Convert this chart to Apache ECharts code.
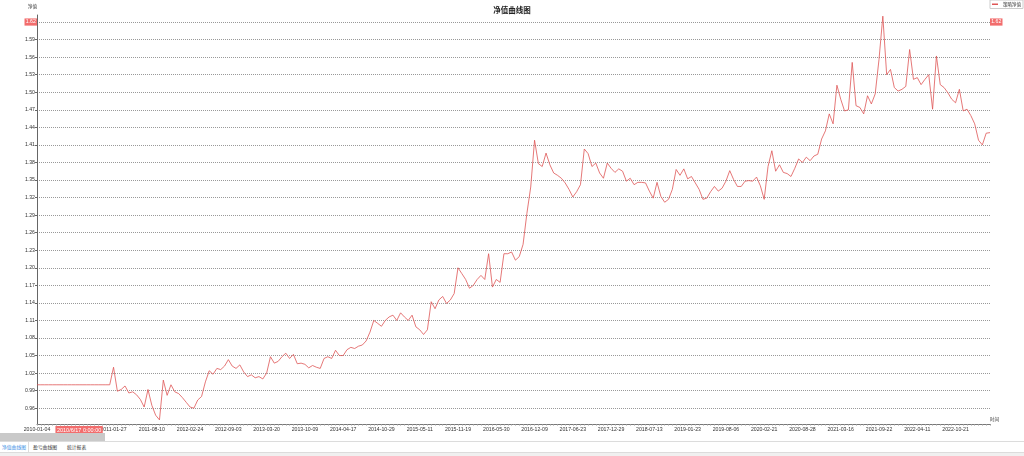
<!DOCTYPE html>
<html><head><meta charset="utf-8">
<script src="https://cdn.jsdelivr.net/npm/echarts@6/dist/echarts.min.js"></script>
<style>
html,body{margin:0;padding:0;width:1024px;height:456px;overflow:hidden;background:#fff;font-family:'Liberation Sans','Noto Sans CJK SC',sans-serif;}
#chart{position:absolute;left:0;top:0;width:1024px;height:441px;}
#scroll{position:absolute;left:0;top:433px;width:105px;height:8px;background:#c9c9c9;}
#tabs{position:absolute;left:0;top:441px;width:1024px;height:10px;border-top:1px solid #dcdcdc;border-bottom:1px solid #dcdcdc;background:#fff;}
#tabs span{position:absolute;top:0;height:10px;line-height:10px;font-size:4.8px;color:#333;white-space:nowrap;font-family:'Noto Sans CJK SC',sans-serif;}
#under{position:absolute;left:0;top:453px;width:1024px;height:3px;background:#f0f0f0;}
</style></head>
<body>
<div id="chart"></div>
<div id="scroll"></div>
<div id="tabs"><span style="left:0;width:28px;text-align:center;color:#3b8fe5;border-right:1px solid #dcdcdc;">净值曲线图</span><span style="left:33px;">盈亏曲线图</span><span style="left:67px;">统计报表</span></div>
<div id="under"></div>
<script>
// label dates shown on x axis (every 10th category), plus last category date
const labelDates = ['2010-01-04','2010-05-23','2011-01-27','2011-08-10','2012-02-24','2012-09-03','2013-03-20','2013-10-09','2014-04-17','2014-10-29','2015-05-11','2015-11-19','2016-05-30','2016-12-09','2017-06-23','2017-12-29','2018-07-13','2019-01-23','2019-08-06','2020-02-21','2020-08-28','2021-03-16','2021-09-22','2022-04-11','2022-10-21'];
const lastDate = '2023-04-03';
const pointerIndex = 11;
const pointerValue = 1.62;
const seriesName = '策略净值';
const netValues = [
1.000,1.000,1.000,1.000,1.000,1.000,1.000,1.000,1.000,1.000,
1.000,1.000,1.000,1.000,1.000,1.000,1.000,1.000,1.000,1.000,
1.030,0.989,0.992,0.998,0.986,0.988,0.983,0.975,0.962,0.992,
0.965,0.948,0.940,1.008,0.982,1.000,0.988,0.985,0.978,0.970,
0.962,0.960,0.974,0.980,1.005,1.024,1.018,1.028,1.026,1.032,
1.043,1.032,1.028,1.034,1.022,1.014,1.017,1.012,1.014,1.010,
1.020,1.048,1.037,1.040,1.048,1.054,1.045,1.052,1.036,1.037,
1.035,1.029,1.033,1.030,1.028,1.045,1.048,1.045,1.059,1.050,
1.050,1.060,1.064,1.062,1.066,1.068,1.075,1.090,1.110,1.105,
1.100,1.110,1.116,1.119,1.110,1.123,1.116,1.110,1.119,1.099,
1.094,1.086,1.094,1.142,1.130,1.145,1.151,1.139,1.145,1.156,
1.200,1.190,1.180,1.165,1.170,1.180,1.187,1.180,1.224,1.167,
1.180,1.175,1.224,1.224,1.227,1.213,1.219,1.240,1.293,1.338,
1.418,1.378,1.373,1.396,1.376,1.362,1.358,1.353,1.345,1.334,
1.321,1.330,1.342,1.403,1.395,1.373,1.379,1.362,1.353,1.379,
1.370,1.363,1.369,1.365,1.348,1.353,1.342,1.346,1.346,1.345,
1.331,1.319,1.346,1.322,1.312,1.317,1.334,1.368,1.358,1.369,
1.352,1.356,1.345,1.334,1.317,1.319,1.330,1.339,1.331,1.336,
1.348,1.366,1.351,1.339,1.339,1.348,1.349,1.348,1.355,1.340,
1.317,1.373,1.400,1.365,1.376,1.363,1.361,1.356,1.370,1.386,
1.380,1.389,1.383,1.391,1.394,1.420,1.434,1.463,1.446,1.512,
1.488,1.468,1.470,1.551,1.477,1.474,1.463,1.494,1.480,1.497,
1.556,1.630,1.530,1.539,1.508,1.502,1.505,1.510,1.573,1.522,
1.525,1.513,1.522,1.530,1.471,1.562,1.513,1.508,1.499,1.488,
1.482,1.505,1.468,1.471,1.460,1.446,1.418,1.410,1.430,1.431
];

// build category dates: 10 categories per labelled segment
function toDay(s){const p=s.split('-');return Date.UTC(+p[0],+p[1]-1,+p[2])/86400000;}
function fmt(d){const t=new Date(d*86400000);const m=t.getUTCMonth()+1,dd=t.getUTCDate();return t.getUTCFullYear()+'-'+(m<10?'0':'')+m+'-'+(dd<10?'0':'')+dd;}
const anchors = labelDates.concat([lastDate]);
const categories = [];
for(let s=0;s<anchors.length-1;s++){
  const a=toDay(anchors[s]), b=toDay(anchors[s+1]);
  const steps = (s===anchors.length-2) ? (netValues.length-1-10*s) : 10;
  for(let k=0;k<steps;k++){categories.push(k===0?anchors[s]:fmt(Math.round(a+(b-a)*k/steps)));}
}
categories.push(lastDate);

const FONT = "'Liberation Sans','Noto Sans CJK SC',sans-serif";
const RED = '#f26d6d';
const chart = echarts.init(document.getElementById('chart'), null, {renderer:'canvas'});
const yCommon = {type:'value', min:0.933, max:1.632, splitNumber:23};
chart.setOption({
  animation:false,
  textStyle:{fontFamily:FONT},
  title:{text:'净值曲线图', left:'center', top:1, textStyle:{fontSize:7.5, fontWeight:'bold', color:'#222', fontFamily:"'Noto Sans CJK SC',sans-serif"}},
  legend:{right:1, top:0, data:[{name:seriesName, icon:'rect'}], itemWidth:6, itemHeight:1.5, padding:[2,2], borderColor:'#ccc', borderWidth:1,
    textStyle:{fontSize:4.5, color:'#333', fontFamily:"'Noto Sans CJK SC',sans-serif"}},
  grid:{left:37, right:34, top:15, bottom:17, containLabel:false},
  xAxis:{type:'category', data:categories, boundaryGap:false,
    name:'时间', nameLocation:'end', nameGap:0,
    nameTextStyle:{fontSize:4.5, color:'#333', verticalAlign:'bottom', align:'left', padding:[0,0,2,0], fontFamily:"'Noto Sans CJK SC',sans-serif"},
    axisLine:{lineStyle:{color:'#777', width:1}},
    axisTick:{show:true, interval:0, length:1.5, lineStyle:{color:'#999'}},
    axisLabel:{interval:9, fontSize:5.2, color:'#333', margin:3},
    splitLine:{show:false},
    axisPointer:{show:true, value:categories[pointerIndex], status:'show', triggerTooltip:false,
      lineStyle:{opacity:0},
      label:{show:true, backgroundColor:RED, color:'#fff', fontSize:5.5, padding:[1.5,1.5], margin:2, borderRadius:0,
        formatter:function(p){const q=String(p.value).split('-');return q[0]+'/'+(+q[1])+'/'+(+q[2])+' 0:00:00';}}}
  },
  yAxis:[
    Object.assign({}, yCommon, {position:'left',
      name:'净值', nameLocation:'end', nameGap:6,
      nameTextStyle:{fontSize:4.5, color:'#333', align:'right', fontFamily:"'Noto Sans CJK SC',sans-serif"},
      axisLine:{show:true, lineStyle:{color:'#666'}},
      axisTick:{show:true, length:2, lineStyle:{color:'#666'}},
      axisLabel:{fontSize:5.2, color:'#333', margin:2, showMinLabel:false, showMaxLabel:false, formatter:function(v){return v.toFixed(2);}},
      splitLine:{show:true, showMinLine:false, showMaxLine:false, lineStyle:{type:'dotted', color:'#999', width:1}},
      axisPointer:{show:true, value:pointerValue, status:'show', triggerTooltip:false, lineStyle:{opacity:0},
        label:{show:true, backgroundColor:RED, color:'#fff', fontSize:5.2, padding:[1,1.2], margin:0, borderRadius:0,
          formatter:function(p){return (+p.value).toFixed(2);}}}
    }),
    Object.assign({}, yCommon, {position:'right',
      axisLine:{show:false}, axisTick:{show:false}, axisLabel:{show:false}, splitLine:{show:false},
      axisPointer:{show:true, value:pointerValue, status:'show', triggerTooltip:false, lineStyle:{opacity:0},
        label:{show:true, backgroundColor:RED, color:'#fff', fontSize:5.2, padding:[1,1.2], margin:0, borderRadius:0,
          formatter:function(p){return (+p.value).toFixed(2);}}}
    })
  ],
  series:[{name:seriesName, type:'line', data:netValues, yAxisIndex:0, symbol:'none', showSymbol:false,
    lineStyle:{color:'#de5656', width:0.8}, itemStyle:{color:'#de5656'}}]
});
</script>
</body></html>
